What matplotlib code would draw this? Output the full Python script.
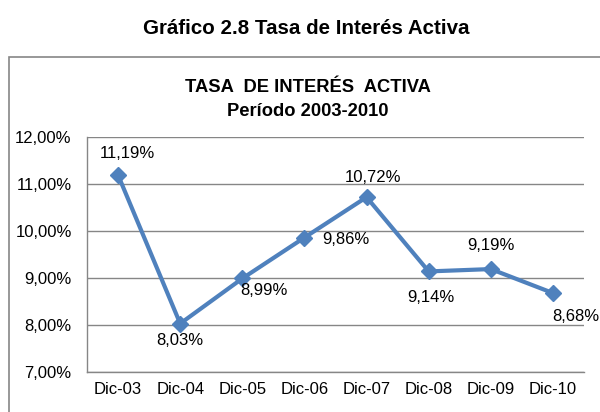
import matplotlib
matplotlib.use("Agg")
from matplotlib import pyplot as plt
from matplotlib.patches import Rectangle
from matplotlib.ticker import FuncFormatter

# data
periodos = ["Dic-03", "Dic-04", "Dic-05", "Dic-06", "Dic-07", "Dic-08", "Dic-09", "Dic-10"]
tasa = [11.19, 8.03, 8.99, 9.86, 10.72, 9.14, 9.19, 8.68]
etiquetas = ["11,19%", "8,03%", "8,99%", "9,86%", "10,72%", "9,14%", "9,19%", "8,68%"]

# label offsets in pixels (x right, y up)
offsets = [(9, 22), (0, -17), (22, -12), (41, -2), (6, 20), (2, -26), (0, 24), (23, -23)]

plt.rcParams['font.family'] = ['Liberation Sans', 'DejaVu Sans']
azul = "#4F81BD"
gris = "#868686"

fig = plt.figure(figsize=(6, 4.12), dpi=100)

# outer chart frame (runs off the right/bottom edge)
fig.patches.append(Rectangle((9 / 600, -0.05), 1.0, (412 - 57) / 412 + 0.05,
                             transform=fig.transFigure, fill=False,
                             edgecolor=gris, linewidth=1.2))

fig.text(306 / 600, 1 - 28 / 412, "Gráfico 2.8 Tasa de Interés Activa",
         ha="center", va="center", fontsize=14.8, fontweight="bold")
fig.text(308 / 600, 1 - 88 / 412, "TASA  DE INTERÉS  ACTIVA",
         ha="center", va="center", fontsize=13.2, fontweight="bold")
fig.text(308 / 600, 1 - 112 / 412, "Período 2003-2010",
         ha="center", va="center", fontsize=13.2, fontweight="bold")

ax = fig.add_axes([87 / 600, 40 / 412, (584 - 87) / 600, (372 - 137) / 412])
x = list(range(len(periodos)))
ax.plot(x, tasa, color=azul, linewidth=3, marker="D", markersize=8,
        markerfacecolor=azul, markeredgecolor=azul)

for xi, yi, txt, off in zip(x, tasa, etiquetas, offsets):
    ax.annotate(txt, (xi, yi), xytext=off, textcoords="offset pixels",
                ha="center", va="center", fontsize=12)

ax.set_xlim(-0.5, len(periodos) - 0.5)
ax.set_ylim(7, 12)
ax.set_yticks([7, 8, 9, 10, 11, 12])
ax.yaxis.set_major_formatter(FuncFormatter(lambda v, p: ("%.2f%%" % v).replace(".", ",")))
ax.set_xticks(x)
ax.set_xticklabels(periodos)
ax.tick_params(axis="both", length=0, labelsize=12)
ax.tick_params(axis="y", pad=11)
ax.tick_params(axis="x", pad=7)

ax.grid(axis="y", color=gris, linewidth=1)
ax.set_axisbelow(True)
for s in ["top", "right"]:
    ax.spines[s].set_visible(False)
for s in ["left", "bottom"]:
    ax.spines[s].set_color(gris)
    ax.spines[s].set_linewidth(1)

fig.savefig("out.png", dpi=100)
